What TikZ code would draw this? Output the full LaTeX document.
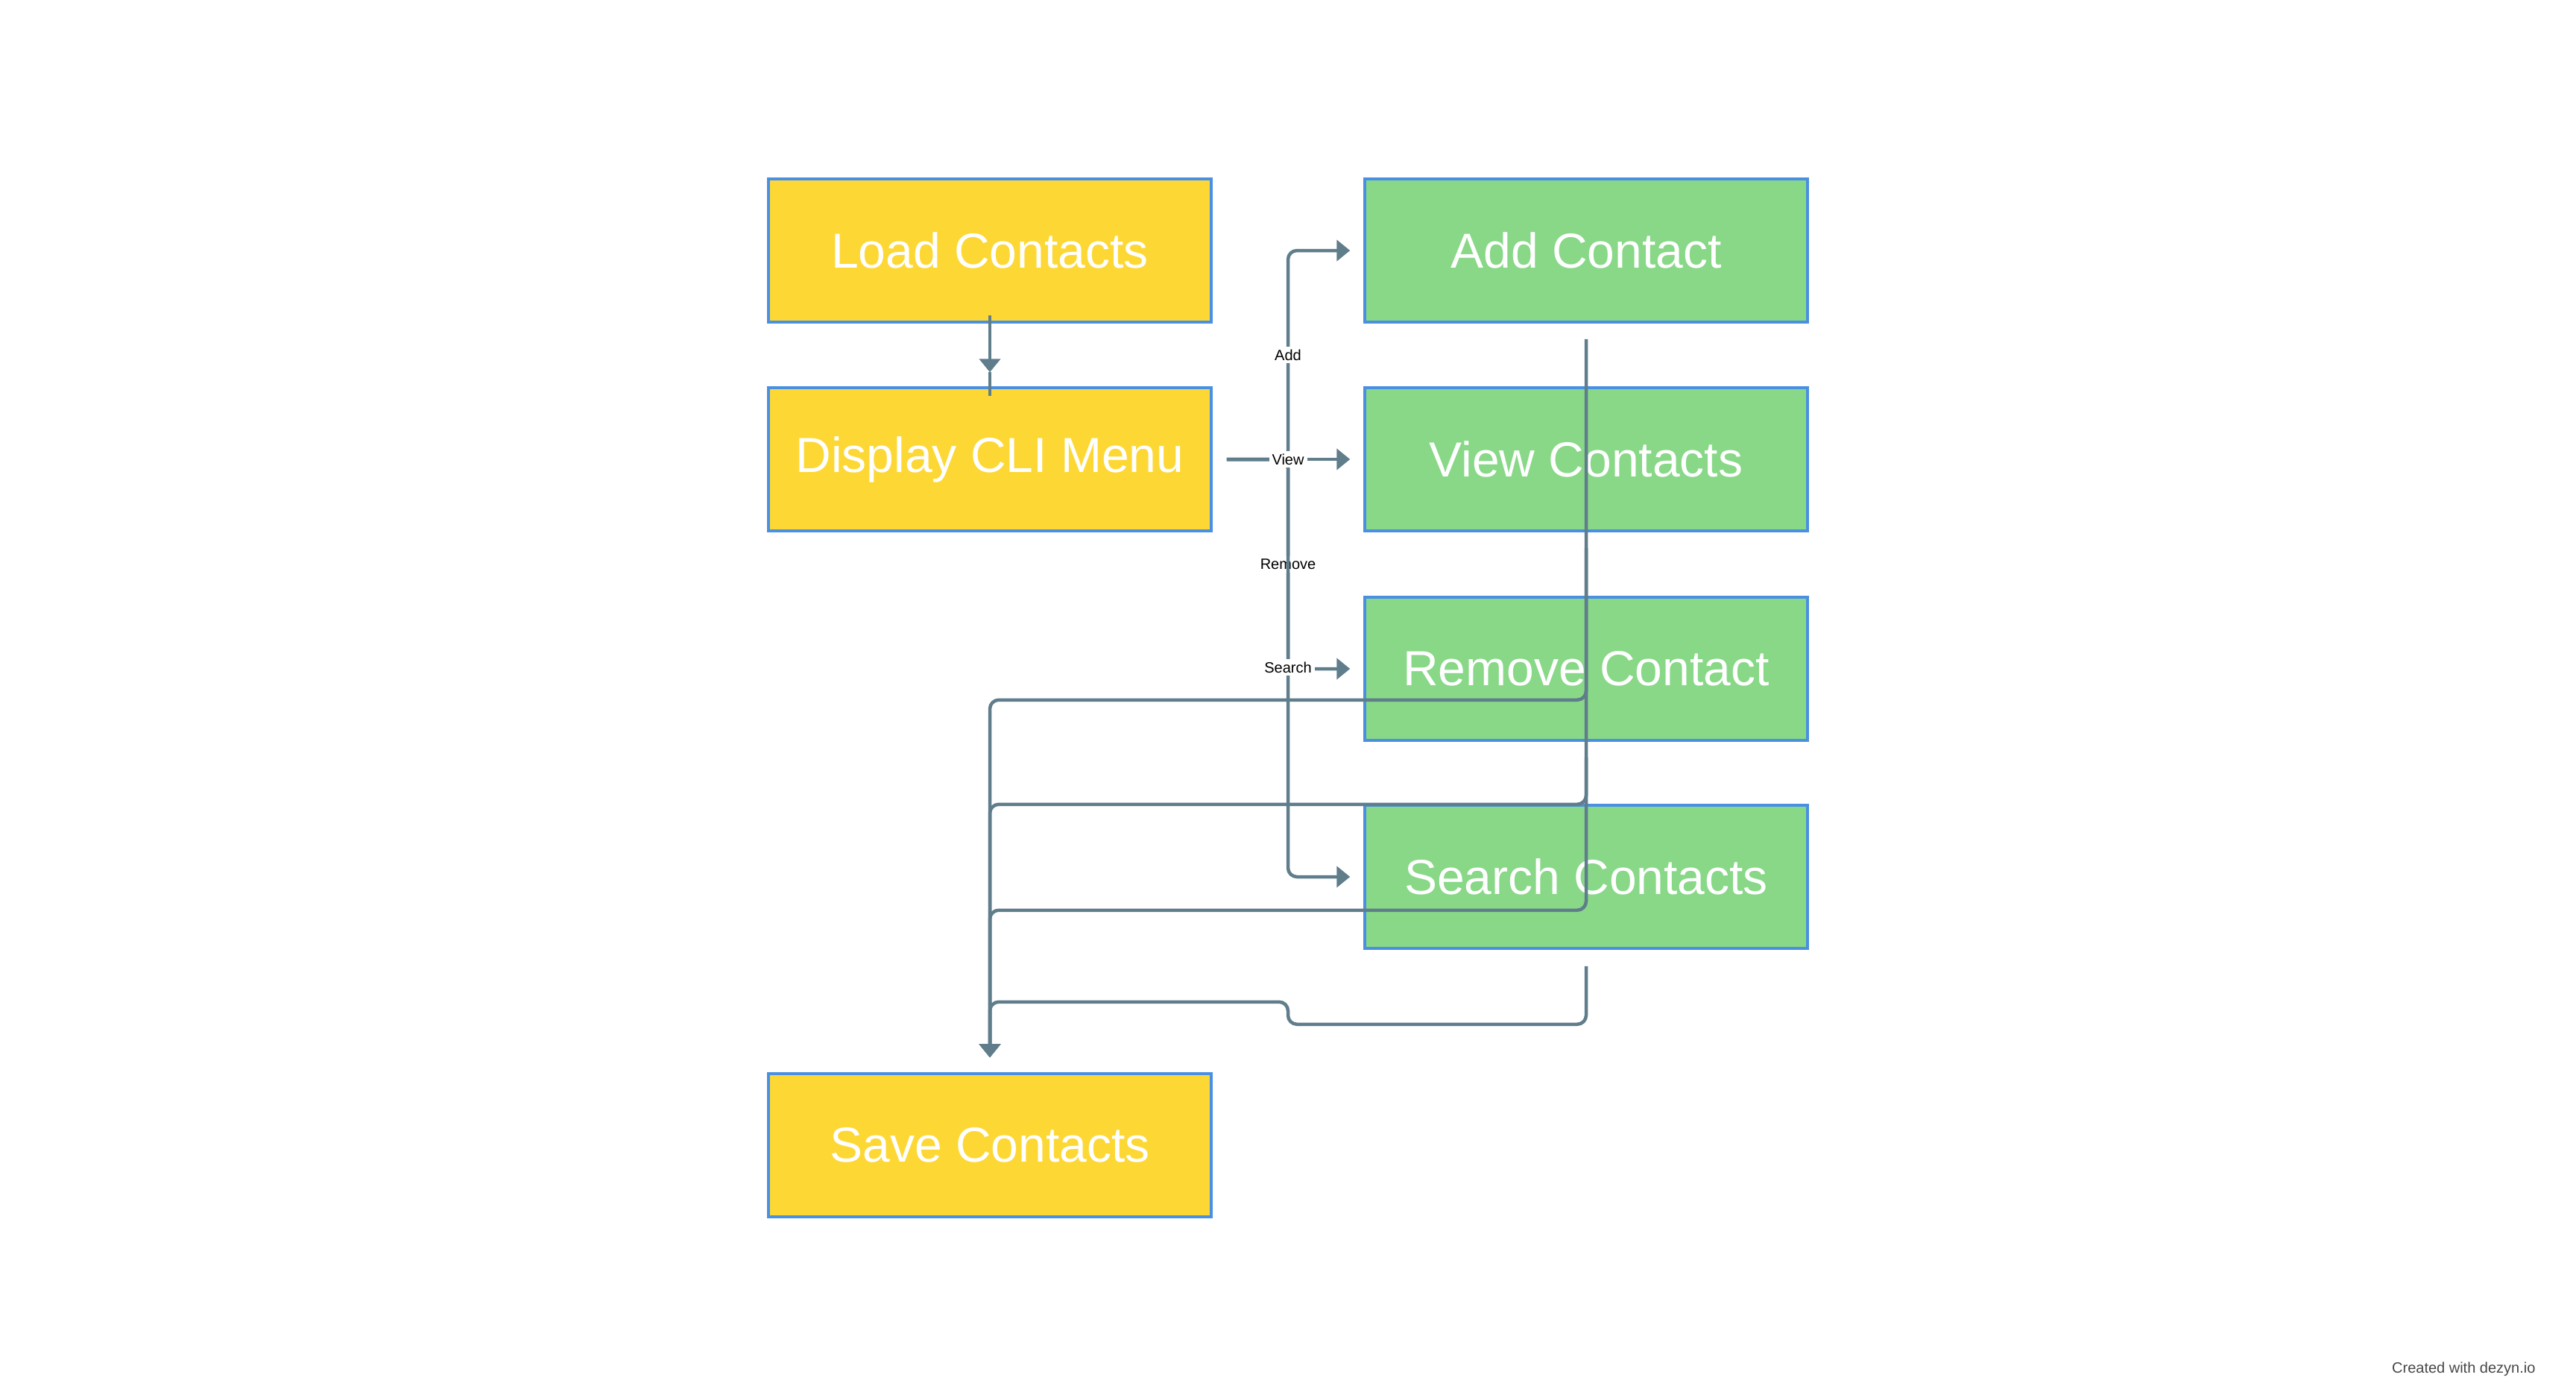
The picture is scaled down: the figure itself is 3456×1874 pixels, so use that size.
\documentclass[tikz,border=0pt]{standalone}
\usepackage{fontspec}
\setmainfont{Liberation Sans}
\usetikzlibrary{arrows.meta}
\definecolor{boxY}{HTML}{FDD835}
\definecolor{boxG}{HTML}{88D888}
\definecolor{bord}{HTML}{4A90E2}
\definecolor{edgec}{HTML}{607D8B}
\tikzset{
  box/.style={draw=bord, line width=3.5pt, minimum width=594pt, minimum height=192pt, inner sep=0pt, text=white, font=\fontsize{66}{80}\selectfont},
  ybox/.style={box, fill=boxY},
  gbox/.style={box, fill=boxG},
  edge/.style={draw=edgec, line width=4.5pt, rounded corners=12pt},
  arr/.style={edge, -{Triangle[length=18pt,width=28pt]}},
  lbl/.style={fill=white, inner sep=4pt, font=\fontsize{20}{24}\selectfont, text=black},
}
\begin{document}
\begin{tikzpicture}[x=1pt, y=-1pt]
\useasboundingbox[fill=white] (0,0) rectangle (3456,1874);
% boxes
\node[ybox] (load) at (1328,336) {Load Contacts};
\node[ybox] (disp) at (1328,616) {Display CLI Menu};
\node[gbox] (add) at (2128,336) {Add Contact};
\node[gbox] (view) at (2128,616) {View Contacts};
\node[gbox] (remove) at (2128,897) {Remove Contact};
\node[gbox] (search) at (2128,1176) {Search Contacts};
\node[ybox] (save) at (1328,1536) {Save Contacts};
\coordinate (bus) at (1728,616);
% load -> display
\draw[arr] ([yshift=11pt]load.south) -- ([yshift=19pt]disp.north);
\draw[edge] ([yshift=19pt]disp.north) -- ([yshift=-13pt]disp.north);
% display -> options
\draw[arr] ([xshift=19pt]disp.east) -- (bus) |- ([xshift=-18pt]add.west);
\node[lbl] (lAdd) at (1728,476) {Add};
\draw[arr] ([xshift=19pt]disp.east) -- (bus) |- ([xshift=-18pt]remove.west);
\node[lbl] (lRemove) at (1728,757) {Remove};
\draw[arr] ([xshift=19pt]disp.east) -- (bus) |- ([xshift=-18pt]search.west);
\node[lbl] (lSearch) at (1728,895) {Search};
\draw[arr] ([xshift=19pt]disp.east) -- ([xshift=-18pt]view.west);
\node[lbl] (lView) at (1728,616) {View};
% returns to save
\draw[arr] ([yshift=-21pt]add.south) -- ++(0,484) -| ([yshift=20pt]save.north);
\draw[arr] ([yshift=-21pt]view.south) -- ++(0,344) -| ([yshift=20pt]save.north);
\draw[arr] ([yshift=-21pt]remove.south) -- ++(0,205) -| ([yshift=20pt]save.north);
\draw[arr] ([yshift=-22pt]search.south) -- ++(0,78) -- ++(-400,0) -- ++(0,-30) -| ([yshift=20pt]save.north);
% credit
\node[font=\fontsize{20}{24}\selectfont, text=black!72, anchor=east] (credit) at (3405,1836) {Created with dezyn.io};
\end{tikzpicture}
\end{document}
